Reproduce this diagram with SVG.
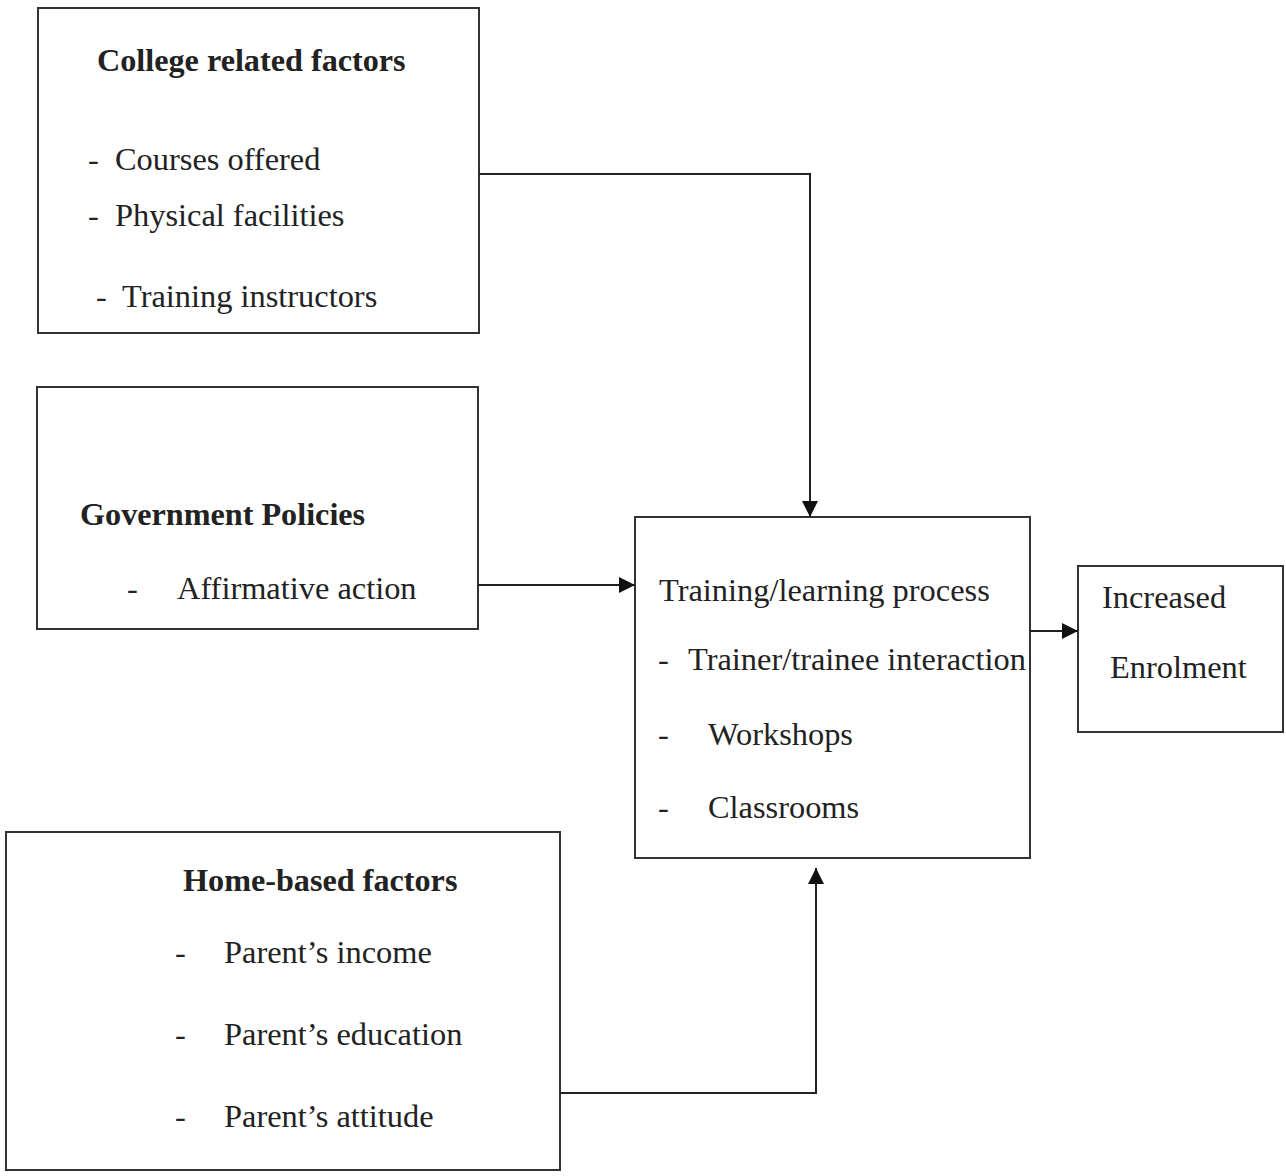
<svg xmlns="http://www.w3.org/2000/svg" width="1286" height="1176" viewBox="0 0 1286 1176">
<style>
.box{fill:none;stroke:#333;stroke-width:2}
.t{font-family:"Liberation Serif","Times New Roman",serif;font-size:32.4px;fill:#222}
.b{font-weight:bold;font-size:32.2px}
.c{fill:none;stroke:#222;stroke-width:2}
</style>
<defs>
<marker id="ah" viewBox="0 0 10 10" refX="10" refY="5" markerWidth="16" markerHeight="16" markerUnits="userSpaceOnUse" orient="auto">
<path d="M0,0 L10,5 L0,10 z" fill="#111"/>
</marker>
</defs>
<rect width="1286" height="1176" fill="#fff"/>
<g id="college">
<rect class="box" x="38" y="8" width="441" height="325"/>
<text class="t b" x="97" y="71">College related factors</text>
<text class="t" x="88" y="170">-</text><text class="t" x="115" y="170">Courses offered</text>
<text class="t" x="88" y="226">-</text><text class="t" x="115" y="226">Physical facilities</text>
<text class="t" x="96" y="307">-</text><text class="t" x="122" y="307">Training instructors</text>
</g>
<g id="government">
<rect class="box" x="37" y="387" width="441" height="242"/>
<text class="t b" x="80" y="525">Government Policies</text>
<text class="t" x="127" y="599">-</text><text class="t" x="177" y="599">Affirmative action</text>
</g>
<g id="home">
<rect class="box" x="6" y="832" width="554" height="338"/>
<text class="t b" x="183" y="891">Home-based factors</text>
<text class="t" x="175" y="963">-</text><text class="t" x="224" y="963">Parent’s income</text>
<text class="t" x="175" y="1045">-</text><text class="t" x="224" y="1045">Parent’s education</text>
<text class="t" x="175" y="1127">-</text><text class="t" x="224" y="1127">Parent’s attitude</text>
</g>
<g id="process">
<rect class="box" x="635" y="517" width="395" height="341"/>
<text class="t" x="659" y="601">Training/learning process</text>
<text class="t" x="658" y="670">-</text><text class="t" x="688" y="670">Trainer/trainee interaction</text>
<text class="t" x="658" y="745">-</text><text class="t" x="708" y="745">Workshops</text>
<text class="t" x="658" y="818">-</text><text class="t" x="708" y="818">Classrooms</text>
</g>
<g id="enrolment">
<rect class="box" x="1078" y="566" width="205" height="166"/>
<text class="t" x="1102" y="608">Increased</text>
<text class="t" x="1110" y="678">Enrolment</text>
</g>
<g id="connectors">
<polyline class="c" points="479,174 810,174 810,517" marker-end="url(#ah)"/>
<polyline class="c" points="478,585 635,585" marker-end="url(#ah)"/>
<polyline class="c" points="1030,631 1078,631" marker-end="url(#ah)"/>
<polyline class="c" points="560,1093 816,1093 816,868" marker-end="url(#ah)"/>
</g>
</svg>
